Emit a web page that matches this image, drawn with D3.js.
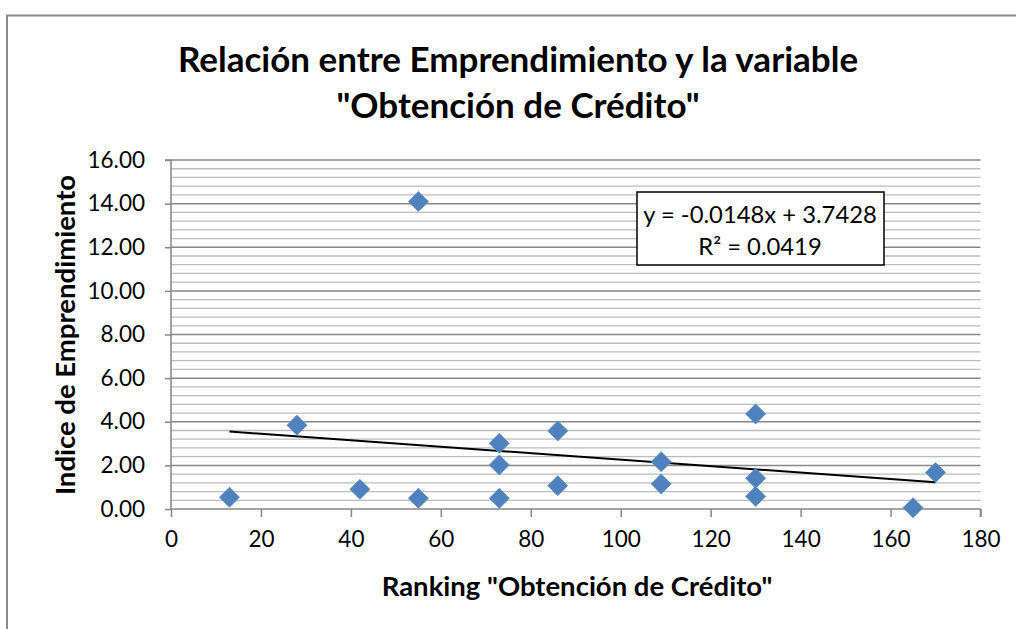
<!DOCTYPE html>
<html><head><meta charset="utf-8">
<script src="https://cdn.jsdelivr.net/npm/d3@7"></script>
<style>html,body{margin:0;padding:0;background:#fff;}svg{display:block;}</style>
</head><body>
<svg id="c" width="1016" height="629"></svg>
<script>
const titleLines = ["Relación entre Emprendimiento y la variable", "\"Obtención de Crédito\""];
const xTitle = "Ranking \"Obtención de Crédito\"";
const yTitle = "Indice de Emprendimiento";
const xTicks = [0, 20, 40, 60, 80, 100, 120, 140, 160, 180];
const yTicks = [0, 2, 4, 6, 8, 10, 12, 14, 16];
const rankX = [13, 28, 42, 55, 55, 73, 73, 73, 86, 86, 109, 109, 130, 130, 130, 165, 170];
const indexY = [0.54, 3.84, 0.90, 14.10, 0.49, 3.01, 2.02, 0.49, 3.58, 1.07, 2.17, 1.15, 4.36, 1.41, 0.58, 0.06, 1.67];
const trendSlope = -0.0148;
const trendIntercept = 3.7428;
const eqLines = ["y = -0.0148x + 3.7428", "R² = 0.0419"];

const svg = d3.select("#c");
const L = 171, R = 980.5, T = 160, B = 509;
const x = d3.scaleLinear().domain([0, 180]).range([L, R]);
const y = d3.scaleLinear().domain([0, 16]).range([B, T]);
const font = "Lato, 'Open Sans', sans-serif";

// outer frame
svg.append("rect").attr("x", 7).attr("y", 15.5).attr("width", 1040).attr("height", 640)
  .attr("fill", "none").attr("stroke", "#8a8a8a").attr("stroke-width", 2);

// minor grid
const minor = d3.range(0, 16.0001, 0.4).filter(v => Math.abs(v / 2 - Math.round(v / 2)) > 0.01);
svg.append("g").selectAll("line").data(minor).join("line")
  .attr("x1", L).attr("x2", R).attr("y1", d => y(d)).attr("y2", d => y(d))
  .attr("stroke", "#bcbcbc").attr("stroke-width", 1.3);
// major grid
svg.append("g").selectAll("line").data(yTicks.filter(d => d > 0)).join("line")
  .attr("x1", L).attr("x2", R).attr("y1", d => y(d)).attr("y2", d => y(d))
  .attr("stroke", "#878787").attr("stroke-width", 1.5);

// axes
const yAxis = svg.append("g").attr("transform", `translate(${L},0)`)
  .call(d3.axisLeft(y).tickValues(yTicks).tickFormat(d3.format(".2f")).tickSize(6).tickPadding(20));
const xAxis = svg.append("g").attr("transform", `translate(0,${B})`)
  .call(d3.axisBottom(x).tickValues(xTicks).tickFormat(d3.format("d")).tickSize(8).tickPadding(14));
[yAxis, xAxis].forEach(g => {
  g.selectAll("path").attr("stroke", "#878787").attr("stroke-width", 1.5);
  g.selectAll("line").attr("stroke", "#878787").attr("stroke-width", 1.5);
  g.selectAll("text").attr("font-family", font).attr("font-size", 22.5).attr("fill", "#000");
});
yAxis.select("path").attr("d", `M-6,${T}H0V${B}`);
xAxis.select("path").attr("d", `M${L},0H${R}V8`);

// trendline
const x0 = d3.min(rankX), x1 = d3.max(rankX);
svg.append("line")
  .attr("x1", x(x0)).attr("y1", y(trendSlope * x0 + trendIntercept))
  .attr("x2", x(x1)).attr("y2", y(trendSlope * x1 + trendIntercept))
  .attr("stroke", "#000").attr("stroke-width", 2);

// markers
const pts = rankX.map((v, i) => [v, indexY[i]]);
svg.append("g").selectAll("path").data(pts).join("path")
  .attr("transform", d => `translate(${x(d[0])},${y(d[1])})`)
  .attr("d", "M0,-10L10,0L0,10L-10,0Z")
  .attr("fill", "#4f81bd").attr("stroke", "#5a8ac4").attr("stroke-width", 0.8);

// equation box
const eg = svg.append("g");
eg.append("rect").attr("x", 637).attr("y", 192).attr("width", 247).attr("height", 73)
  .attr("fill", "#fff").attr("stroke", "#000").attr("stroke-width", 1.5);
eg.selectAll("text").data(eqLines).join("text")
  .attr("x", 760).attr("y", (d, i) => 223 + i * 32)
  .attr("text-anchor", "middle").attr("font-family", font).attr("font-size", 23.8).text(d => d);

// titles
svg.append("g").selectAll("text").data(titleLines).join("text")
  .attr("x", 518).attr("y", (d, i) => 72 + i * 46)
  .attr("text-anchor", "middle").attr("font-family", font).attr("font-weight", "bold")
  .attr("font-size", 35).text(d => d);
svg.append("text").attr("x", 577).attr("y", 596).attr("text-anchor", "middle")
  .attr("font-family", font).attr("font-weight", "bold").attr("font-size", 27.5).text(xTitle);
svg.append("text").attr("transform", "translate(75,335) rotate(-90)").attr("text-anchor", "middle")
  .attr("font-family", font).attr("font-weight", "bold").attr("font-size", 27.5).text(yTitle);
</script>
</body></html>
